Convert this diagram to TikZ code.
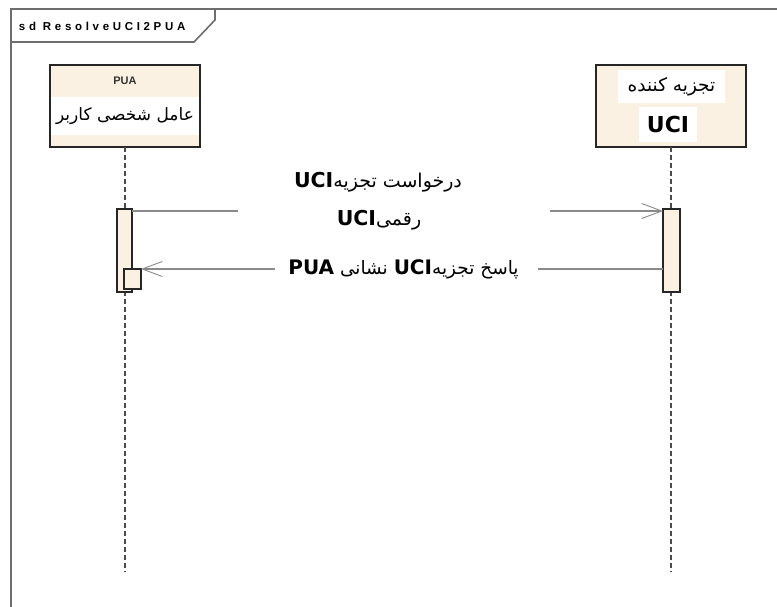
\documentclass[tikz,border=0pt]{standalone}
\usepackage{fontspec}
\setmainfont{Liberation Sans}
\newfontfamily\fafont[Script=Arabic]{DejaVu Sans}
\newfontfamily\codefont{DejaVu Sans}
\newfontfamily\titlefont[LetterSpace=32]{Liberation Sans}
\TeXXeTstate=1
\usetikzlibrary{arrows.meta}
\definecolor{lifebeige}{HTML}{FBF1E2}
\definecolor{framegray}{HTML}{6E6E6E}
\definecolor{msggray}{HTML}{8A8A8A}

\begin{document}
\begin{tikzpicture}[x=1pt, y=-1pt,
    every node/.style={inner sep=0pt, outer sep=0pt},
    headbox/.style={draw=black!85, line width=1.6pt, fill=lifebeige, minimum width=150pt, minimum height=82pt},
    actbox/.style={draw=black!85, line width=1.3pt, fill=lifebeige},
    lifeline/.style={draw=black!70, line width=1.4pt, dash pattern=on 5pt off 3pt},
    msg/.style={draw=msggray, line width=1.2pt, -{Straight Barb[length=20pt,width=15pt,line width=0.9pt]}},
    msglabel/.style={fill=white, align=center},
    fa/.style={font=\fafont\fontsize{17}{20}\selectfont},
    bigcode/.style={font=\codefont\bfseries\fontsize{22}{26}\selectfont}]
  \useasboundingbox (0,0) rectangle (777,607);
  \fill[white] (0,0) rectangle (777,607);
  \clip (0,0) rectangle (777,607);

  % frame and its tab
  \draw[framegray, line width=2pt] (11,620) -- (11,9) -- (790,9);
  \draw[framegray, line width=1.6pt] (11,42) -- (194,42) -- (215,20) -- (215,9);
  \node[anchor=west, font=\titlefont\bfseries\fontsize{11.5}{13}\selectfont] (title) at (19,26) {sd ResolveUCI2PUA};

  % lifeline heads
  \node[headbox] (pua) at (125,106) {};
  \node[font=\bfseries\fontsize{11}{13}\selectfont, text=black!80] (puaHead) at (125,81) {PUA};
  \node[fa, fill=white, minimum width=148pt, minimum height=38pt] (puaName) at (125,116)
    {\beginR عامل شخصی کاربر\endR};

  \node[headbox] (parser) at (671,106) {};
  \node[fa, font=\fafont\fontsize{18.5}{20}\selectfont, fill=white, minimum width=107pt, minimum height=33pt] (parserName) at (671.5,86.5)
    {\beginR تجزیه کننده\endR};
  \node[bigcode, fill=white, minimum width=58pt, minimum height=35pt] (parserCode) at (668,124.5) {UCI};

  % lifelines
  \coordinate (endL) at (125,572);
  \coordinate (endR) at (671,572);
  \draw[lifeline] (pua.south) -- (endL);
  \draw[lifeline] (parser.south) -- (endR);

  % activations
  \node[actbox, minimum width=15pt, minimum height=83pt] (actL) at (124.5,250.5) {};
  \node[actbox, minimum width=17pt, minimum height=83pt] (actR) at (671.5,250.5) {};
  \node[actbox, minimum width=17pt, minimum height=20pt] (actS) at (132.5,279) {};

  % messages
  \coordinate (m1) at (0,211);
  \coordinate (m2) at (0,269);
  \draw[msg] (actL.east |- m1) -- (actR.west |- m1);
  \draw[msg] (actR.west |- m2) -- (actS.east |- m2);

  \node[msglabel] (reqA) at (378,182)
    {\beginR{\fafont\fontsize{19}{20}\selectfont درخواست تجزیه}\beginL{\codefont\bfseries\fontsize{20.5}{24}\selectfont UCI}\endL\endR};
  \node[msglabel, minimum width=312pt, minimum height=22pt] (reqB) at (394,220)
    {\beginR{\fafont\fontsize{19}{20}\selectfont رقمی}\beginL{\codefont\bfseries\fontsize{20.5}{24}\selectfont UCI}\endL\endR\hspace{30pt}};
  \node[msglabel, minimum width=263pt, minimum height=22pt] (reply) at (406,269)
    {\beginR{\fafont\fontsize{18.5}{20}\selectfont پاسخ تجزیه}\beginL{\codefont\bfseries\fontsize{20}{24}\selectfont UCI}\endL{\fafont\fontsize{18.5}{20}\selectfont\ نشانی\ }\beginL{\codefont\bfseries\fontsize{20}{24}\selectfont\ PUA}\endL\endR\hspace{12pt}};
\end{tikzpicture}
\end{document}
